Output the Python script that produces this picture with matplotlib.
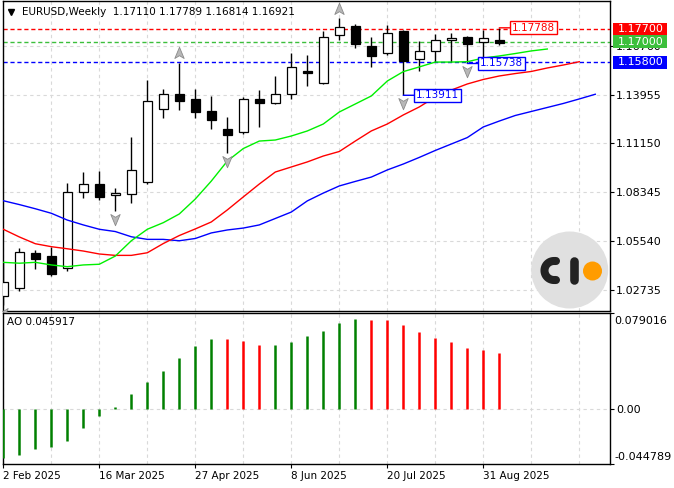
import numpy as np
import matplotlib
matplotlib.use('Agg')
import matplotlib.pyplot as plt
import matplotlib.transforms as mtransforms
from matplotlib.path import Path
from matplotlib.patches import Rectangle, Circle

plt.rcParams['font.family'] = 'DejaVu Sans'

# EURUSD weekly candles, first bar = week of 2 Feb 2025
opens = [1.0237, 1.0282, 1.0483, 1.0466, 1.0397, 1.0837, 1.0881, 1.0816,
         1.0822, 1.0891, 1.1311, 1.1398, 1.1368, 1.1301, 1.1196, 1.1178,
         1.1368, 1.1345, 1.1397, 1.1532, 1.1460, 1.1736, 1.1791, 1.1673,
         1.1632, 1.1760, 1.1598, 1.1647, 1.1709, 1.1726, 1.1699, 1.17110]
highs = [1.0434, 1.0512, 1.0502, 1.0521, 1.0887, 1.0950, 1.0956, 1.0856,
         1.1151, 1.1479, 1.1427, 1.1578, 1.1427, 1.1387, 1.1264, 1.1379,
         1.1421, 1.1502, 1.1636, 1.1623, 1.1759, 1.1833, 1.1799, 1.1728,
         1.1795, 1.1769, 1.1703, 1.1741, 1.1747, 1.1732, 1.1766, 1.17789]
lows = [1.0186, 1.0268, 1.0393, 1.0353, 1.0383, 1.0802, 1.0789, 1.0726,
        1.0774, 1.0879, 1.1262, 1.1306, 1.1262, 1.1196, 1.1061, 1.1170,
        1.1211, 1.1340, 1.1370, 1.1446, 1.1454, 1.1707, 1.1664, 1.1555,
        1.1623, 1.13911, 1.1531, 1.1584, 1.1584, 1.15738, 1.1600, 1.16814]
closes = [1.0319, 1.0489, 1.0450, 1.0366, 1.0833, 1.0879, 1.0808, 1.0829,
          1.0960, 1.1356, 1.1398, 1.1360, 1.1297, 1.1251, 1.1165, 1.1368,
          1.1348, 1.1397, 1.1552, 1.1521, 1.1724, 1.1782, 1.1688, 1.1619,
          1.1747, 1.1588, 1.1646, 1.1707, 1.1722, 1.1688, 1.1722, 1.16921]

# alligator lines as drawn (already shifted forward)
lips = [1.0431, 1.0426, 1.0431, 1.0416, 1.0406, 1.0416, 1.0420, 1.0467,
        1.0555, 1.0621, 1.0659, 1.0709, 1.0795, 1.0898, 1.1013, 1.1085,
        1.1128, 1.1134, 1.1157, 1.1186, 1.1226, 1.1295, 1.1341, 1.1387,
        1.1473, 1.1527, 1.1554, 1.1582, 1.1582, 1.1584, 1.1605, 1.1617,
        1.1631, 1.1646, 1.1657]
teeth = [1.0621, 1.0577, 1.0538, 1.0521, 1.0509, 1.0496, 1.0479, 1.0471,
         1.0471, 1.0486, 1.0539, 1.0585, 1.0623, 1.0663, 1.0732, 1.0807,
         1.0881, 1.0950, 1.0979, 1.1008, 1.1042, 1.1068, 1.1128, 1.1186,
         1.1226, 1.1278, 1.1324, 1.1381, 1.1421, 1.1456, 1.1482, 1.1502,
         1.1516, 1.1528, 1.1548, 1.1565, 1.1584]
jaw = [1.0785, 1.0763, 1.0739, 1.0713, 1.0674, 1.0646, 1.0621, 1.0608,
       1.0578, 1.0563, 1.0563, 1.0555, 1.0568, 1.0600, 1.0617, 1.0628,
       1.0646, 1.0683, 1.0720, 1.0784, 1.0829, 1.0870, 1.0896, 1.0921,
       1.0962, 1.0996, 1.1034, 1.1074, 1.1111, 1.1148, 1.1209, 1.1243,
       1.1275, 1.1298, 1.1321, 1.1344, 1.1370, 1.1397]

# awesome oscillator
ao = [-0.0396, -0.0374, -0.0325, -0.0306, -0.0260, -0.0151, -0.0053, 0.0018,
      0.0122, 0.0222, 0.0312, 0.0418, 0.0516, 0.0574, 0.0573, 0.0557,
      0.0525, 0.0526, 0.0549, 0.0598, 0.0639, 0.0704, 0.0737, 0.0729,
      0.0728, 0.0688, 0.0631, 0.0582, 0.0549, 0.0500, 0.0484, 0.045917]
ao_max, ao_min = 0.079016, -0.044789

fractal_up = [11, 21]
fractal_down = [0, 7, 14, 25, 29]

date_bars = [0, 6, 12, 18, 24, 30]
date_labels = ['2 Feb 2025', '16 Mar 2025', '27 Apr 2025', '8 Jun 2025',
               '20 Jul 2025', '31 Aug 2025']

price_ticks = [1.02735, 1.05540, 1.08345, 1.11150, 1.13955, 1.16760]
levels = [1.17700, 1.17000, 1.15800]
level_colors = ['#ff0000', '#3cbf3c', '#0000ff']

mark_bars = [31, 29, 25]
mark_vals = [1.17788, 1.15738, 1.13911]
mark_colors = ['#ff0000', '#0000ff', '#0000ff']

W, H = 674, 488
fig = plt.figure(figsize=(W / 100, H / 100), dpi=100)
ax = fig.add_axes([2.5 / W, 177.5 / H, 607.5 / W, 310 / H])
ax2 = fig.add_axes([2.5 / W, 24 / H, 607.5 / W, 151.5 / H], sharex=ax)

ylo, yhi = 1.01542, 1.19358
ax.set_xlim(-0.05, 37.92)
ax.set_ylim(ylo, yhi)

grid_kw = dict(color='#d9d9d9', ls=(0, (3, 3)), lw=0.8, zorder=0)
for gx in range(0, 38, 3):
    ax.axvline(gx, **grid_kw)
    ax2.axvline(gx, **grid_kw)
for p in price_ticks:
    ax.axhline(p, **grid_kw)

# price levels
for v, col in zip(levels, level_colors):
    ax.axhline(v, color=col, ls=(0, (3, 2)), lw=1, zorder=2)

# candles
o, h, l, c = map(np.array, (opens, highs, lows, closes))
x = np.arange(len(o))
ax.vlines(x, l, h, color='black', lw=1, zorder=3)
ax.bar(x, np.abs(c - o), bottom=np.minimum(o, c), width=0.56,
       color=np.where(c >= o, 'white', 'black'), edgecolor='black', lw=0.9, zorder=4)

# alligator
ax.plot(np.arange(len(jaw)), jaw, color='#0000ff', lw=1, zorder=5)
ax.plot(np.arange(len(teeth)), teeth, color='#ff0000', lw=1, zorder=5)
ax.plot(np.arange(len(lips)), lips, color='#00f000', lw=1, zorder=5)

# fractals
up_arrow = Path([(0, 1), (0.75, -0.8), (0, -0.35), (-0.75, -0.8), (0, 1)],
                [Path.MOVETO, Path.LINETO, Path.LINETO, Path.LINETO, Path.CLOSEPOLY])
down_arrow = Path([(0, -1), (0.75, 0.8), (0, 0.35), (-0.75, 0.8), (0, -1)],
                  [Path.MOVETO, Path.LINETO, Path.LINETO, Path.LINETO, Path.CLOSEPOLY])
ax.plot(fractal_up, h[fractal_up] + 0.0055, ls='none', marker=up_arrow, ms=9,
        mfc='#b8b8b8', mec='#8a8a8a', mew=0.6, zorder=6)
ax.plot(fractal_down, l[fractal_down] - 0.0045, ls='none', marker=down_arrow, ms=9,
        mfc='#b8b8b8', mec='#8a8a8a', mew=0.6, zorder=6)

# labelled high / lows
for b, v, col in zip(mark_bars, mark_vals, mark_colors):
    ax.annotate(f'{v:.5f}', xy=(b, v), xytext=(9.1, 0), textcoords='offset points',
                ha='left', va='center', color=col, fontsize=7.5, zorder=8,
                bbox=dict(boxstyle='square,pad=0.15', fc='white', ec=col, lw=1),
                arrowprops=dict(arrowstyle='-', color=col, lw=1, shrinkA=0, shrinkB=0))

# right axis
ax.yaxis.tick_right()
ax.set_yticks(price_ticks)
ax.set_yticklabels([f'{p:.5f}' for p in price_ticks])
ax.tick_params(axis='y', direction='out', length=3, labelsize=8, pad=1.5, colors='black')
ax.tick_params(axis='x', bottom=False, labelbottom=False)

trans = mtransforms.blended_transform_factory(ax.transAxes, ax.transData)
ppx = (yhi - ylo) / 310.0
for v, col in zip(levels, level_colors):
    ax.add_patch(Rectangle((1.0045, v - 6.3 * ppx), 0.089, 12.6 * ppx, transform=trans,
                           fc=col, ec='none', clip_on=False, zorder=6))
    ax.text(1.0132, v, f'{v:.5f}', transform=trans, color='white', fontsize=8,
            ha='left', va='center', clip_on=False, zorder=7)

# header
ax.plot([0.014], [0.964], transform=ax.transAxes, marker='v', ms=5, color='black',
        clip_on=False, zorder=9)
ax.text(0.0316, 0.962, f'EURUSD,Weekly  {o[-1]:.5f} {h[-1]:.5f} {l[-1]:.5f} {c[-1]:.5f}',
        transform=ax.transAxes, fontsize=7.5, ha='left', va='center', zorder=9)

# AO panel
ao_cols = ['#008000' if i == 0 or ao[i] > ao[i - 1] else '#ff0000' for i in range(len(ao))]
ax2.vlines(np.arange(len(ao)), 0, ao, colors=ao_cols, lw=1.8, zorder=3)
ax2.axhline(0, **grid_kw)
ax2.set_ylim(ao_min, ao_max)
ax2.yaxis.tick_right()
ax2.set_yticks([ao_min, 0, ao_max])
ax2.set_yticklabels(['', '0.00', ''])
ax2.tick_params(axis='y', direction='out', length=3, labelsize=8, pad=1.5)
ax2.text(1.0066, 1 - 8.5 / 151.5, f'{ao_max:.6f}', transform=ax2.transAxes,
         fontsize=8, ha='left', va='center', clip_on=False)
ax2.text(1.0066, 7.5 / 151.5, f'{ao_min:.6f}', transform=ax2.transAxes,
         fontsize=8, ha='left', va='center', clip_on=False)
ax2.text(0.008, 0.934, f'AO {ao[-1]:.6f}', transform=ax2.transAxes, fontsize=7.5,
         ha='left', va='center')

ax2.set_xticks(date_bars)
xlabs = ax2.set_xticklabels(date_labels)
for lab in xlabs:
    lab.set_ha('left')
ax2.tick_params(axis='x', direction='out', length=3, labelsize=7.5, pad=2)

for a in (ax, ax2):
    for s in a.spines.values():
        s.set_linewidth(1)
        s.set_color('black')

# logo
ov = fig.add_axes([0, 0, 1, 1], zorder=10)
ov.set_xlim(0, W)
ov.set_ylim(H, 0)
ov.axis('off')
ov.add_patch(Circle((569.7, 270), 38.5, fc='#e0e0e0', ec='none'))
t = np.linspace(np.pi / 2, 3 * np.pi / 2, 40)
cx = np.r_[556, 554 + 9.5 * np.cos(t), 556]
cy = np.r_[261, 270.5 - 9.5 * np.sin(t), 280]
ov.plot(cx, cy, color='#222222', lw=5.8, solid_capstyle='round')
ov.plot([574, 574], [261, 280], color='#222222', lw=6.2, solid_capstyle='round')
ov.add_patch(Circle((592.5, 271), 9.5, fc='#ff9c00', ec='none'))

fig.savefig('out.png', dpi=100)
